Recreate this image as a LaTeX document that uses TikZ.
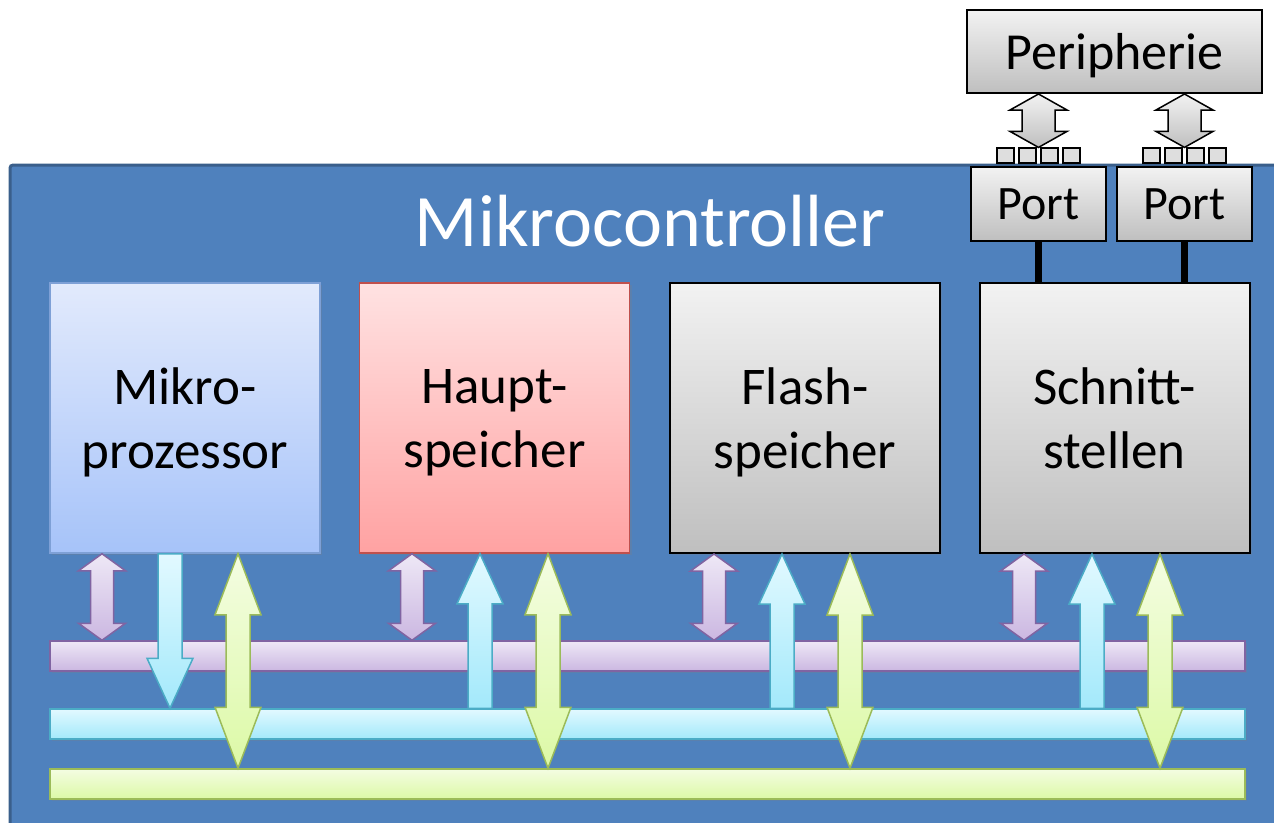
\documentclass[tikz,border=0pt]{standalone}
\usepackage{fontspec}
\setmainfont{Carlito}
\usetikzlibrary{calc,shadows}

\definecolor{mcfill}{HTML}{4F81BD}
\definecolor{mcline}{HTML}{3A5F8B}
\definecolor{cpuline}{HTML}{7EA0D6}
\definecolor{cputop}{HTML}{E2EAFC}
\definecolor{cpubot}{HTML}{A6C3F9}
\definecolor{ramline}{HTML}{C0504D}
\definecolor{ramtop}{HTML}{FFE2E2}
\definecolor{rambot}{HTML}{FFA2A2}
\definecolor{greytop}{HTML}{F2F2F2}
\definecolor{greybot}{HTML}{BFBFBF}
\definecolor{ctrlline}{HTML}{8064A2}
\definecolor{ctrltop}{HTML}{EEE8F6}
\definecolor{ctrlbot}{HTML}{CBB7E1}
\definecolor{addrline}{HTML}{4BACC6}
\definecolor{addrtop}{HTML}{E2F9FF}
\definecolor{addrbot}{HTML}{A3E9FB}
\definecolor{dataline}{HTML}{9BBB59}
\definecolor{datatop}{HTML}{F4FDE2}
\definecolor{databot}{HTML}{DCF9A6}

\tikzset{
  shaftw/.store in=\shaftw, headw/.store in=\headw, tiplen/.store in=\tiplen,
  twoway/.style={to path={let \p1=(\tikztostart), \p2=(\tikztotarget), \n1={sign((\y2)-(\y1))} in
    (\x1,\y1) -- ({\x1+\headw},{\y1+(\n1)*\tiplen}) -- ({\x1+\shaftw},{\y1+(\n1)*\tiplen})
    -- ({\x1+\shaftw},{\y2-(\n1)*\tiplen}) -- ({\x1+\headw},{\y2-(\n1)*\tiplen}) -- (\x1,\y2)
    -- ({\x1-\headw},{\y2-(\n1)*\tiplen}) -- ({\x1-\shaftw},{\y2-(\n1)*\tiplen})
    -- ({\x1-\shaftw},{\y1+(\n1)*\tiplen}) -- ({\x1-\headw},{\y1+(\n1)*\tiplen}) -- cycle}},
  oneway/.style={to path={let \p1=(\tikztostart), \p2=(\tikztotarget), \n1={sign((\y2)-(\y1))} in
    ({\x1-\shaftw},\y1) -- ({\x1+\shaftw},\y1) -- ({\x1+\shaftw},{\y2-(\n1)*\tiplen})
    -- ({\x1+\headw},{\y2-(\n1)*\tiplen}) -- (\x1,\y2) -- ({\x1-\headw},{\y2-(\n1)*\tiplen})
    -- ({\x1-\shaftw},{\y2-(\n1)*\tiplen}) -- cycle}},
  unit/.style={minimum width=270pt, minimum height=270pt, inner sep=0pt, line width=1.5pt,
    align=center, text depth=0pt, font=\fontsize{53}{64}\selectfont,
    drop shadow={opacity=0.25, shadow xshift=2pt, shadow yshift=-2pt}},
  greybox/.style={draw=black, line width=2pt, top color=greytop, bottom color=greybot},
  bus/.style={minimum width=1195pt, minimum height=30pt, inner sep=0pt, line width=1.5pt,
    drop shadow={opacity=0.25, shadow xshift=2pt, shadow yshift=-2pt}},
  ctrl arrow/.style={twoway, draw=ctrlline, line width=1.5pt, top color=ctrltop, bottom color=ctrlbot,
    shaftw=11.5pt, headw=23.5pt, tiplen=17pt},
  addr arrow/.style={oneway, draw=addrline, line width=1.5pt, top color=addrtop, bottom color=addrbot,
    shaftw=12pt, headw=23pt, tiplen=50pt},
  data arrow/.style={twoway, draw=dataline, line width=1.5pt, top color=datatop, bottom color=databot,
    shaftw=12pt, headw=23pt, tiplen=61pt},
  io arrow/.style={twoway, draw=black, line width=1.5pt, top color=greytop, bottom color=greybot,
    shaftw=16.5pt, headw=28.5pt, tiplen=16pt},
  pinbox/.style={draw=black, line width=1.2pt, fill=greytop!60!greybot, minimum width=17pt,
    minimum height=15pt, inner sep=0pt},
}

\begin{document}
\begin{tikzpicture}[x=1pt,y=-1pt]
  \useasboundingbox (0,0) rectangle (1274,822);
  \clip (0,0) rectangle (1274,822);
  % microcontroller body
  \draw[mcline, fill=mcfill, line width=3pt, rounded corners=3pt] (10,165) rectangle (1300,850);
  \node[text=white, font=\fontsize{74}{80}\selectfont] (mctitle) at (650,221) {Mikrocontroller};

  % buses
  \node[bus, draw=ctrlline, top color=ctrltop, bottom color=ctrlbot] (cbus) at (647.5,656) {};
  \node[bus, draw=addrline, top color=addrtop, bottom color=addrbot] (abus) at (647.5,724) {};
  \node[bus, draw=dataline, top color=datatop, bottom color=databot] (dbus) at (647.5,784) {};

  % units
  \node[unit, draw=cpuline, top color=cputop, bottom color=cpubot] (mp) at (185,418) {Mikro-\\prozessor};
  \node[unit, draw=ramline, top color=ramtop, bottom color=rambot] (hs) at (494.5,418) {Haupt-\\speicher};
  \node[unit, greybox] (fs) at (805,418) {Flash-\\speicher};
  \node[unit, greybox] (st) at (1114.5,418) {Schnitt-\\stellen};

  % ports and periphery
  \node[greybox, minimum width=135pt, minimum height=74pt, inner sep=0pt, font=\fontsize{48}{50}\selectfont] (port1) at (1038.5,204) {Port};
  \node[greybox, minimum width=135pt, minimum height=74pt, inner sep=0pt, font=\fontsize{48}{50}\selectfont] (port2) at (1184.5,204) {Port};
  \node[greybox, minimum width=295pt, minimum height=83pt, inner sep=0pt, text depth=0pt, font=\fontsize{52}{56}\selectfont] (peri) at (1114.5,51.5) {Peripherie};
  \foreach \q in {port1,port2}
    \foreach \k [count=\i] in {-1.5,-0.5,0.5,1.5}
      \node[pinbox] (\q-pin\i) at ([xshift=\k*22pt, yshift=10.5pt]\q.north) {};
  \foreach \q in {port1,port2} {
    \coordinate (\q-io) at (peri.south -| \q.north);
    \draw[io arrow] (\q-io) to (\q-pin2.north);
    \draw[line width=7pt] (\q.south) -- (\q.south |- st.north);
  }

  % bus connections
  \foreach \u/\dx in {mp/-83, hs/-82.5, fs/-91, st/-90.5} {
    \coordinate (\u-c) at ([xshift=\dx pt]\u.south);
    \draw[ctrl arrow] (\u-c) to (cbus.north);
  }
  \coordinate (mp-a) at ([xshift=-15pt]mp.south);
  \draw[addr arrow] (mp-a) to (abus.north);
  \foreach \u/\dx in {hs/-14.5, fs/-23, st/-22.5} {
    \coordinate (\u-a) at ([xshift=\dx pt]\u.south);
    \coordinate (\u-ab) at (abus.north -| \u-a);
    \draw[addr arrow] (\u-ab) to (\u-a);
  }
  \foreach \u/\dx in {mp/53, hs/53.5, fs/45, st/45.5} {
    \coordinate (\u-d) at ([xshift=\dx pt]\u.south);
    \draw[data arrow] (\u-d) to (dbus.north);
  }
\end{tikzpicture}
\end{document}
